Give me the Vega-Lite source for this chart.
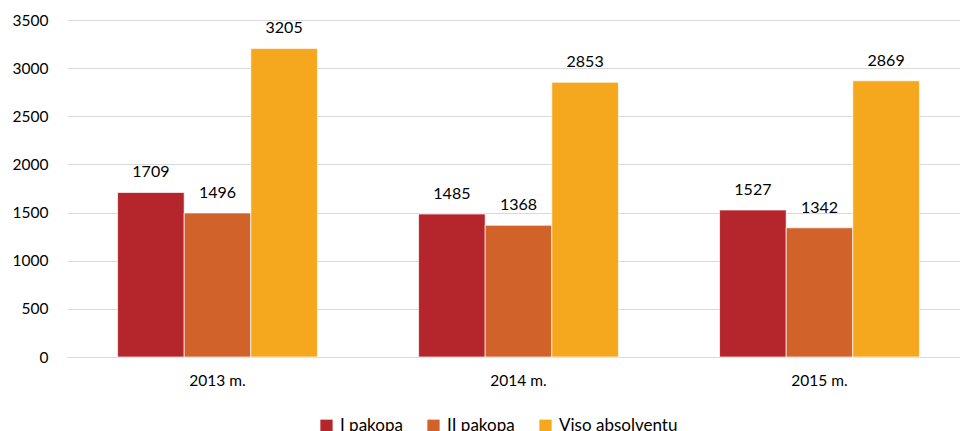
{
  "$schema": "https://vega.github.io/schema/vega-lite/v6.json",
  "autosize": "none",
  "width": 891,
  "height": 337,
  "padding": {"left": 67, "top": 20, "right": 2, "bottom": 74},
  "background": "white",
  "config": {
    "view": {"stroke": null},
    "font": "Lato",
    "axis": {"labelFont": "Lato", "labelColor": "#000000", "labelFontSize": 15.5}
  },
  "data": {
    "values": [
      {"year": "2013 m.", "series": "I pakopa", "value": 1709},
      {"year": "2013 m.", "series": "II pakopa", "value": 1496},
      {"year": "2013 m.", "series": "Viso absolventų", "value": 3205},
      {"year": "2014 m.", "series": "I pakopa", "value": 1485},
      {"year": "2014 m.", "series": "II pakopa", "value": 1368},
      {"year": "2014 m.", "series": "Viso absolventų", "value": 2853},
      {"year": "2015 m.", "series": "I pakopa", "value": 1527},
      {"year": "2015 m.", "series": "II pakopa", "value": 1342},
      {"year": "2015 m.", "series": "Viso absolventų", "value": 2869}
    ]
  },
  "encoding": {
    "x": {
      "field": "year", "type": "nominal",
      "scale": {"range": [0, 903], "paddingInner": 0.336, "paddingOuter": 0.168},
      "axis": {"title": null, "labelAngle": 0, "ticks": false, "domain": true, "domainColor": "#D9D9D9", "labelPadding": 16, "grid": false}
    },
    "xOffset": {"field": "series", "type": "nominal", "sort": ["I pakopa", "II pakopa", "Viso absolventų"]},
    "y": {
      "field": "value", "type": "quantitative",
      "scale": {"domain": [0, 3500]},
      "axis": {"title": null, "format": "d", "values": [0, 500, 1000, 1500, 2000, 2500, 3000, 3500], "ticks": false, "domain": false, "gridColor": "#D9D9D9", "labelPadding": 19}
    }
  },
  "layer": [
    {
      "mark": {"type": "bar", "stroke": "white", "strokeWidth": 0.7},
      "encoding": {
        "color": {
          "field": "series", "type": "nominal",
          "scale": {"domain": ["I pakopa", "II pakopa", "Viso absolventų"], "range": ["#B4262C", "#D1622A", "#F5A71E"]},
          "legend": {
            "title": null, "orient": "none", "direction": "horizontal",
            "legendX": 251, "legendY": 397,
            "symbolType": "square", "symbolSize": 150, "symbolStrokeWidth": 0,
            "labelFontSize": 17, "labelFont": "Lato", "labelColor": "#000000",
            "columnPadding": 22, "labelOffset": 5
          }
        }
      }
    },
    {
      "mark": {"type": "text", "baseline": "bottom", "dy": -12, "fontSize": 16, "font": "Lato", "color": "#000000"},
      "encoding": {"text": {"field": "value", "type": "quantitative"}}
    }
  ]
}
